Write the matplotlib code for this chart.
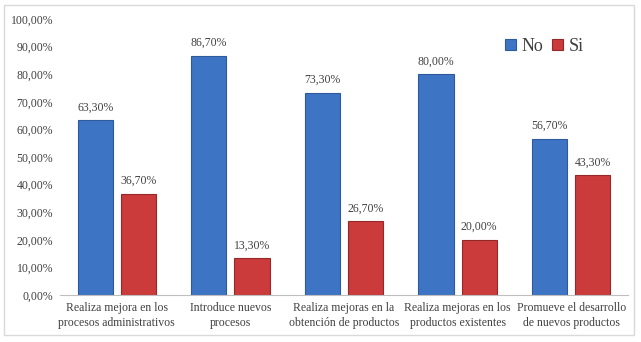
import matplotlib
matplotlib.use("Agg")
import matplotlib.pyplot as plt
import numpy as np
from matplotlib.patches import Rectangle

categories = ["Realiza mejora en los\nprocesos administrativos",
              "Introduce nuevos\nprocesos",
              "Realiza mejoras en la\nobtención de productos",
              "Realiza mejoras en los\nproductos existentes",
              "Promueve el desarrollo\nde nuevos productos"]
no_vals = [63.3, 86.7, 73.3, 80.0, 56.7]
si_vals = [36.7, 13.3, 26.7, 20.0, 43.3]
yticks = [0, 10, 20, 30, 40, 50, 60, 70, 80, 90, 100]

plt.rcParams['font.family'] = ['Liberation Serif', 'DejaVu Serif']

fig = plt.figure(figsize=6.41 * np.array([1, 342 / 641]), dpi=100)
fig.patches.append(Rectangle((4 / 641, 7 / 342), 630 / 641, 330 / 342, transform=fig.transFigure,
                             fill=False, edgecolor='#d9d9d9', linewidth=1))
ax = fig.add_axes([60 / 641, 1 - 295 / 342, 568 / 641, 276 / 342])

x = np.arange(len(categories))
w = 0.31
off = 0.19
b1 = ax.bar(x - off, no_vals, w, color='#3d74c4', edgecolor='#2d5a9a', linewidth=0.8, label='No')
b2 = ax.bar(x + off, si_vals, w, color='#cc3b3b', edgecolor='#952828', linewidth=0.8, label='Si')

def fmt(v):
    return f"{v:.2f}".replace('.', ',') + '%'

for bars, vals in ((b1, no_vals), (b2, si_vals)):
    for b, v in zip(bars, vals):
        ax.annotate(fmt(v), (b.get_x() + b.get_width() / 2, v), xytext=(0, 5),
                    textcoords='offset points', ha='center', va='bottom', fontsize=8.5, color='#404040')

ax.set_xlim(-0.5, len(categories) - 0.5)
ax.set_ylim(0, 100)
ax.set_yticks(yticks)
ax.set_yticklabels([fmt(t) for t in yticks], fontsize=8.5, color='#404040')
ax.set_xticks(x)
ax.set_xticklabels(categories, fontsize=8.5, color='#404040', linespacing=1.35)
ax.tick_params(axis='both', length=0, pad=5)
for s in ['top', 'right', 'left']:
    ax.spines[s].set_visible(False)
ax.spines['bottom'].set_color('#bfbfbf')

ax.legend(loc='upper left', bbox_to_anchor=(0.755, 0.99), ncol=2, frameon=False, fontsize=13,
          handlelength=0.6, handleheight=0.6, handletextpad=0.3, columnspacing=0.5,
          labelcolor='#404040')

fig.savefig("out.png", dpi=100)
